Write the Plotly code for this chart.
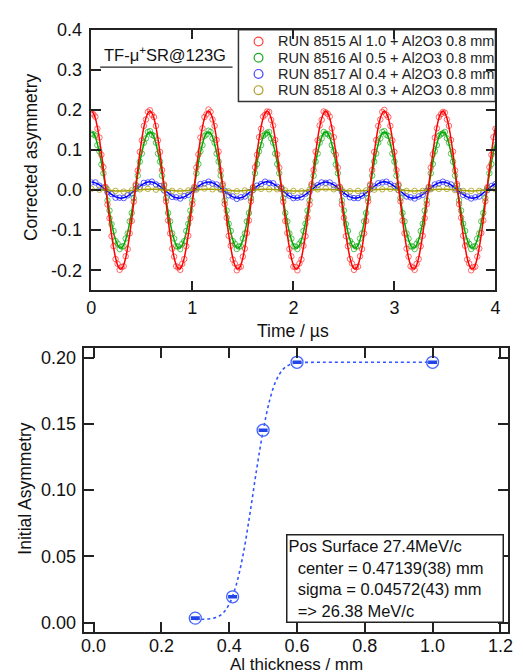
import numpy as np
import plotly.graph_objects as go

W, H = 523, 672
def fx(p): return p / W
def fy(p): return 1 - p / H

FONT = "Liberation Sans, Arial, sans-serif"

# ---------------- top panel data (Time / us, corrected asymmetry) ----------------
series_names = [
    "RUN 8515 Al 1.0 + Al2O3 0.8 mm",
    "RUN 8516 Al 0.5 + Al2O3 0.8 mm",
    "RUN 8517 Al 0.4 + Al2O3 0.8 mm",
    "RUN 8518 Al 0.3 + Al2O3 0.8 mm",
]

red_data = [
    0.193,0.189,0.183,0.153,0.131,0.088,0.057,0.008,-0.036,-0.070,-0.115,-0.140,-0.172,-0.184,-0.199,-0.192,-0.190,-0.165,-0.147,-0.108,-0.077,-0.029,0.014,0.049,0.095,0.124,0.160,0.176,0.195,
    0.199,0.188,0.182,0.160,0.124,0.095,0.050,0.014,-0.028,-0.076,-0.108,-0.146,-0.166,-0.190,-0.193,-0.199,-0.184,-0.172,-0.140,-0.114,-0.070,-0.035,0.008,0.056,0.089,0.131,0.154,0.182,0.189,
    0.201,0.195,0.176,0.160,0.125,0.096,0.049,0.015,-0.035,-0.069,-0.114,-0.139,-0.173,-0.183,-0.200,-0.193,-0.191,-0.166,-0.146,-0.107,-0.076,-0.028,0.007,0.057,0.088,0.132,0.153,0.183,0.188,
    0.196,0.195,0.175,0.161,0.125,0.089,0.056,0.007,-0.029,-0.077,-0.107,-0.147,-0.165,-0.191,-0.192,-0.200,-0.183,-0.173,-0.139,-0.115,-0.069,-0.036,0.015,0.050,0.096,0.124,0.161,0.175,0.196,
    0.194,0.190,0.183,0.154,0.132,0.088,0.056,0.008,-0.036,-0.069,-0.115,-0.140,-0.172,-0.183,-0.199,-0.192,-0.191,-0.165,-0.147,-0.108,-0.077,-0.028,0.014,0.050,0.095,0.125,0.160,0.176,0.195,
    0.200,0.188,0.182,0.160,0.124,0.095,0.050,0.014,-0.028,-0.076,-0.108,-0.146,-0.166,-0.190,-0.193,-0.199,-0.184,-0.172,-0.140,-0.114,-0.070,-0.035,0.008,0.056,0.089,0.131,0.154,0.182,0.189,
    0.195,0.193,0.176,0.160,0.125,0.096,0.049,0.015,-0.035,-0.069,-0.114,-0.139,-0.173,-0.183,-0.200,-0.193,-0.191,-0.166,-0.146,-0.107,-0.076,-0.028,0.007,0.057,0.088,0.132,0.153,
]
red_fit = [
    0.197,0.192,0.179,0.157,0.128,0.092,0.053,0.011,-0.032,-0.073,-0.111,-0.143,-0.169,-0.187,-0.196,-0.196,-0.187,-0.169,-0.143,-0.111,-0.073,-0.032,0.011,0.053,0.092,0.128,0.157,0.179,0.192,
    0.197,0.192,0.179,0.157,0.128,0.092,0.053,0.011,-0.032,-0.073,-0.111,-0.143,-0.169,-0.187,-0.196,-0.196,-0.187,-0.169,-0.143,-0.111,-0.073,-0.032,0.011,0.053,0.092,0.128,0.157,0.179,0.192,
    0.197,0.192,0.179,0.157,0.128,0.092,0.053,0.011,-0.032,-0.073,-0.111,-0.143,-0.169,-0.187,-0.196,-0.196,-0.187,-0.169,-0.143,-0.111,-0.073,-0.032,0.011,0.053,0.092,0.128,0.157,0.179,0.192,
    0.197,0.192,0.179,0.157,0.128,0.092,0.053,0.011,-0.032,-0.073,-0.111,-0.143,-0.169,-0.187,-0.196,-0.196,-0.187,-0.169,-0.143,-0.111,-0.073,-0.032,0.011,0.053,0.092,0.128,0.157,0.179,0.192,
    0.197,0.192,0.179,0.157,0.128,0.092,0.053,0.011,-0.032,-0.073,-0.111,-0.143,-0.169,-0.187,-0.196,-0.196,-0.187,-0.169,-0.143,-0.111,-0.073,-0.032,0.011,0.053,0.092,0.128,0.157,0.179,0.192,
    0.197,0.192,0.179,0.157,0.128,0.092,0.053,0.011,-0.032,-0.073,-0.111,-0.143,-0.169,-0.187,-0.196,-0.196,-0.187,-0.169,-0.143,-0.111,-0.073,-0.032,0.011,0.053,0.092,0.128,0.157,0.179,0.192,
    0.197,0.192,0.179,0.157,0.128,0.092,0.053,0.011,-0.032,-0.073,-0.111,-0.143,-0.169,-0.187,-0.196,-0.196,-0.187,-0.169,-0.143,-0.111,-0.073,-0.032,0.011,0.053,0.092,0.128,0.157,
]

green_data = [
    0.141,0.139,0.136,0.112,0.097,0.064,0.042,0.005,-0.026,-0.051,-0.085,-0.102,-0.127,-0.134,-0.147,-0.141,-0.140,-0.121,-0.108,-0.078,-0.057,-0.020,0.011,0.036,0.071,0.091,0.118,0.129,0.145,
    0.147,0.138,0.135,0.118,0.091,0.071,0.036,0.011,-0.020,-0.057,-0.078,-0.108,-0.121,-0.140,-0.141,-0.147,-0.134,-0.127,-0.102,-0.084,-0.051,-0.026,0.005,0.042,0.065,0.097,0.112,0.135,0.139,
    0.148,0.145,0.129,0.118,0.091,0.071,0.036,0.011,-0.026,-0.051,-0.084,-0.102,-0.127,-0.134,-0.147,-0.141,-0.140,-0.121,-0.108,-0.078,-0.057,-0.020,0.005,0.042,0.065,0.097,0.112,0.135,0.139,
    0.143,0.145,0.129,0.118,0.091,0.065,0.042,0.005,-0.020,-0.057,-0.078,-0.108,-0.121,-0.140,-0.141,-0.147,-0.134,-0.127,-0.102,-0.084,-0.051,-0.026,0.011,0.036,0.071,0.091,0.118,0.129,0.145,
    0.141,0.140,0.135,0.112,0.097,0.064,0.042,0.005,-0.026,-0.051,-0.085,-0.102,-0.127,-0.134,-0.147,-0.141,-0.140,-0.121,-0.108,-0.078,-0.057,-0.020,0.011,0.036,0.071,0.091,0.118,0.129,0.145,
    0.147,0.138,0.135,0.118,0.091,0.071,0.036,0.011,-0.020,-0.057,-0.078,-0.108,-0.121,-0.140,-0.141,-0.147,-0.134,-0.127,-0.102,-0.084,-0.051,-0.026,0.005,0.042,0.065,0.097,0.112,0.135,0.139,
    0.142,0.145,0.129,0.118,0.091,0.071,0.036,0.011,-0.026,-0.051,-0.084,-0.102,-0.127,-0.134,-0.147,-0.141,-0.140,-0.121,-0.108,-0.078,-0.057,-0.020,0.005,0.042,0.065,0.097,0.112,
]
green_fit = [
    0.145,0.142,0.132,0.115,0.094,0.068,0.039,0.008,-0.023,-0.054,-0.081,-0.105,-0.124,-0.137,-0.144,-0.144,-0.137,-0.124,-0.105,-0.081,-0.054,-0.023,0.008,0.039,0.068,0.094,0.115,0.132,0.142,
    0.145,0.142,0.132,0.115,0.094,0.068,0.039,0.008,-0.023,-0.054,-0.081,-0.105,-0.124,-0.137,-0.144,-0.144,-0.137,-0.124,-0.105,-0.081,-0.054,-0.023,0.008,0.039,0.068,0.094,0.115,0.132,0.142,
    0.145,0.142,0.132,0.115,0.094,0.068,0.039,0.008,-0.023,-0.054,-0.081,-0.105,-0.124,-0.137,-0.144,-0.144,-0.137,-0.124,-0.105,-0.081,-0.054,-0.023,0.008,0.039,0.068,0.094,0.115,0.132,0.142,
    0.145,0.142,0.132,0.115,0.094,0.068,0.039,0.008,-0.023,-0.054,-0.081,-0.105,-0.124,-0.137,-0.144,-0.144,-0.137,-0.124,-0.105,-0.081,-0.054,-0.023,0.008,0.039,0.068,0.094,0.115,0.132,0.142,
    0.145,0.142,0.132,0.115,0.094,0.068,0.039,0.008,-0.023,-0.054,-0.081,-0.105,-0.124,-0.137,-0.144,-0.144,-0.137,-0.124,-0.105,-0.081,-0.054,-0.023,0.008,0.039,0.068,0.094,0.115,0.132,0.142,
    0.145,0.142,0.132,0.115,0.094,0.068,0.039,0.008,-0.023,-0.054,-0.081,-0.105,-0.124,-0.137,-0.144,-0.144,-0.137,-0.124,-0.105,-0.081,-0.054,-0.023,0.008,0.039,0.068,0.094,0.115,0.132,0.142,
    0.145,0.142,0.132,0.115,0.094,0.068,0.039,0.008,-0.023,-0.054,-0.081,-0.105,-0.124,-0.137,-0.144,-0.144,-0.137,-0.124,-0.105,-0.081,-0.054,-0.023,0.008,0.039,0.068,0.094,0.115,
]

blue_data = [
    0.019,0.019,0.011,0.006,-0.005,-0.010,-0.019,-0.019,-0.020,-0.013,-0.008,0.003,0.008,0.018,0.019,0.021,0.014,0.010,-0.001,-0.006,-0.017,-0.018,-0.021,-0.015,-0.012,-0.001,0.004,0.015,0.017,
    0.021,0.016,0.014,0.003,-0.002,-0.013,-0.016,-0.022,-0.018,-0.016,-0.005,0.000,0.011,0.015,0.021,0.018,0.017,0.008,0.003,-0.009,-0.014,-0.020,-0.019,-0.018,-0.009,-0.004,0.007,0.012,0.019,
    0.018,0.019,0.012,0.006,-0.004,-0.010,-0.018,-0.020,-0.020,-0.014,-0.008,0.002,0.009,0.017,0.019,0.021,0.015,0.010,0.000,-0.006,-0.016,-0.018,-0.021,-0.016,-0.012,-0.002,0.004,0.014,0.017,
    0.021,0.017,0.014,0.004,-0.002,-0.012,-0.016,-0.021,-0.018,-0.016,-0.006,0.000,0.010,0.015,
]
blue_fit = [
    0.020,0.018,0.013,0.005,-0.003,-0.011,-0.017,-0.020,-0.019,-0.015,-0.007,0.001,0.009,0.016,0.020,0.020,0.016,0.009,0.001,-0.007,-0.015,-0.019,-0.020,-0.017,-0.011,-0.003,0.005,0.013,0.018,
    0.020,0.018,0.013,0.005,-0.003,-0.011,-0.017,-0.020,-0.019,-0.015,-0.007,0.001,0.009,0.016,0.020,0.020,0.016,0.009,0.001,-0.007,-0.015,-0.019,-0.020,-0.017,-0.011,-0.003,0.005,0.013,0.018,
    0.020,0.018,0.013,0.005,-0.003,-0.011,-0.017,-0.020,-0.019,-0.015,-0.007,0.001,0.009,0.016,0.020,0.020,0.016,0.009,0.001,-0.007,-0.015,-0.019,-0.020,-0.017,-0.011,-0.003,0.005,0.013,0.018,
    0.020,0.018,0.013,0.005,-0.003,-0.011,-0.017,-0.020,-0.019,-0.015,-0.007,0.001,0.009,0.016,
]

olive_data = [
    0.003,0.001,0.001,-0.002,-0.004,-0.001,0.002,0.003,0.001,0.001,-0.002,-0.003,-0.001,0.001,0.004,0.002,0.001,-0.003,-0.003,-0.001,0.000,0.003,0.002,0.002,-0.001,-0.002,-0.003,0.001,0.002,
    0.004,0.002,0.000,-0.003,-0.002,-0.001,0.001,0.002,0.003,0.000,-0.002,-0.002,-0.002,0.002,0.003,0.003,0.000,-0.002,-0.002,-0.002,0.001,0.002,
]
olive_fit = [
    0.002,0.001,0.000,-0.002,-0.002,-0.001,0.001,0.002,0.002,0.000,-0.001,-0.002,-0.001,0.001,0.002,0.002,0.001,-0.001,-0.002,-0.001,0.000,0.002,0.002,0.001,-0.001,-0.002,-0.002,0.000,0.001,
    0.002,0.001,0.000,-0.002,-0.002,-0.001,0.001,0.002,0.002,0.000,-0.001,-0.002,-0.001,0.001,0.002,0.002,0.001,-0.001,-0.002,-0.001,0.000,0.002,
]

# time bins (us)
step_red, step_blue, step_olive = 0.02, 0.04, 0.08

top_x_ticks = [0, 1, 2, 3, 4]
top_x_ticktext = ["0", "1", "2", "3", "4"]
top_y_ticks = [-0.2, -0.1, 0.0, 0.1, 0.2, 0.3, 0.4]
top_y_ticktext = ["-0.2", "-0.1", "0.0", "0.1", "0.2", "0.3", "0.4"]

# ---------------- bottom panel data ----------------
al_thickness = [0.30, 0.41, 0.50, 0.60, 1.00]
init_asym = [0.0035, 0.0196, 0.1452, 0.1964, 0.1964]
init_asym_err = [0.0006, 0.0006, 0.0006, 0.0006, 0.0006]

fit_x = [0.30, 0.32, 0.34, 0.36, 0.38, 0.40, 0.42, 0.44, 0.46, 0.48, 0.50,
         0.52, 0.54, 0.56, 0.58, 0.60, 0.65, 0.70, 0.80, 0.90, 1.00]
fit_y = [0.0025, 0.0026, 0.0029, 0.0039, 0.0069, 0.0140, 0.0280, 0.0500, 0.0803, 0.1141, 0.1446,
         0.1684, 0.1835, 0.1914, 0.1948, 0.1960, 0.1964, 0.1964, 0.1964, 0.1964, 0.1964]

bot_x_ticks = [0.0, 0.2, 0.4, 0.6, 0.8, 1.0, 1.2]
bot_x_ticktext = ["0.0", "0.2", "0.4", "0.6", "0.8", "1.0", "1.2"]
bot_y_ticks = [0.00, 0.05, 0.10, 0.15, 0.20]
bot_y_ticktext = ["0.00", "0.05", "0.10", "0.15", "0.20"]

# ---------------- figure ----------------
fig = go.Figure()

def tgrid(vals, step):
    return np.round(np.arange(len(vals)) * step, 3)

top_series = [
    (blue_data, blue_fit, step_blue, "#0000FF", "rgba(40,40,255,0.75)", series_names[2]),
    (olive_data, olive_fit, step_olive, "#A8A000", "rgba(170,160,20,0.8)", series_names[3]),
    (green_data, green_fit, step_red, "#00A800", "rgba(20,170,20,0.7)", series_names[1]),
    (red_data, red_fit, step_red, "#FF0000", "rgba(255,40,40,0.7)", series_names[0]),
]
for data, fit, step, lc, mc, name in top_series:
    fig.add_trace(go.Scatter(
        x=tgrid(data, step), y=data, mode="markers", name=name, showlegend=False,
        marker=dict(symbol="circle-open", size=5.5, color=mc, line=dict(width=1, color=mc)),
        xaxis="x", yaxis="y"))
    fig.add_trace(go.Scatter(
        x=tgrid(fit, step), y=fit, mode="lines", showlegend=False,
        line=dict(color=lc, width=1.5, shape="spline", smoothing=1.0),
        xaxis="x", yaxis="y"))

fig.add_trace(go.Scatter(
    x=fit_x, y=fit_y, mode="lines", showlegend=False,
    line=dict(color="#3355FF", width=1.6, dash="dot", shape="spline"),
    xaxis="x2", yaxis="y2"))
fig.add_trace(go.Scatter(
    x=al_thickness, y=init_asym, mode="markers", showlegend=False,
    marker=dict(symbol="circle-open", size=12, color="#4466FF", line=dict(width=1.3, color="#4466FF")),
    error_y=dict(type="data", array=init_asym_err, visible=True, thickness=2, width=4.5, color="#2244E8"),
    xaxis="x2", yaxis="y2"))

axis_common = dict(showline=True, linecolor="#222222", linewidth=1.5, mirror="ticks",
                   ticks="inside", ticklen=10, tickwidth=1.5, tickcolor="#222222",
                   showgrid=False, zeroline=False,
                   tickfont=dict(family=FONT, size=18, color="#111111"))

fig.update_layout(
    width=W, height=H, margin=dict(l=0, r=0, t=0, b=0),
    paper_bgcolor="white", plot_bgcolor="white", showlegend=False,
    xaxis=dict(domain=[fx(88), fx(500)], range=[0, 4], anchor="y",
               tickvals=top_x_ticks, ticktext=top_x_ticktext, ticklabelstandoff=0, **axis_common),
    yaxis=dict(domain=[fy(285), fy(20)], range=[-0.25, 0.4], anchor="x",
               tickvals=top_y_ticks, ticktext=top_y_ticktext, ticklabelstandoff=4, **axis_common),
    xaxis2=dict(domain=[fx(81), fx(513)], range=[-0.027, 1.223], anchor="y2",
                tickvals=bot_x_ticks, ticktext=bot_x_ticktext, ticklabelstandoff=-3, **axis_common),
    yaxis2=dict(domain=[fy(632), fy(344)], range=[-0.0067, 0.2069], anchor="x2",
                tickvals=bot_y_ticks, ticktext=bot_y_ticktext, ticklabelstandoff=3, **axis_common),
)

ann = []
shapes = []
title_font = dict(family=FONT, size=17.5, color="#111111")
ann.append(dict(text="Time / µs", x=fx(294), y=fy(326), xref="paper", yref="paper",
                showarrow=False, xanchor="center", yanchor="middle", font=title_font))
ann.append(dict(text="Corrected asymmetry", x=fx(26), y=fy(150), xref="paper", yref="paper",
                showarrow=False, xanchor="center", yanchor="middle", textangle=-90, font=title_font))
ann.append(dict(text="Al thickness / mm", x=fx(297), y=fy(665), xref="paper", yref="paper",
                showarrow=False, xanchor="center", yanchor="middle",
                font=dict(family=FONT, size=17, color="#111111")))
ann.append(dict(text="Initial Asymmetry", x=fx(20), y=fy(486), xref="paper", yref="paper",
                showarrow=False, xanchor="center", yanchor="middle", textangle=-90, font=title_font))
ann.append(dict(text="TF-μ<sup>+</sup>SR@123G", x=fx(99), y=fy(45), xref="paper", yref="paper",
                showarrow=False, xanchor="left", yanchor="middle",
                font=dict(family=FONT, size=16.5, color="#111111")))
shapes.append(dict(type="line", xref="paper", yref="paper", x0=fx(97), x1=fx(232), y0=fy(58), y1=fy(58),
                   line=dict(color="#222222", width=1.3)))

# manual legend
shapes.append(dict(type="rect", xref="paper", yref="paper", x0=fx(238), x1=fx(500), y0=fy(93), y1=fy(20),
                   line=dict(color="#333333", width=1.5), fillcolor="white", layer="below"))
legend_rows = [32, 48.5, 65, 81.5]
legend_colors = ["#FF4444", "#22AA22", "#4444FF", "#B0A030"]
for name, col, ry in zip(series_names, legend_colors, legend_rows):
    shapes.append(dict(type="circle", xref="paper", yref="paper",
                       x0=fx(254), x1=fx(263), y0=fy(ry + 4.5), y1=fy(ry - 4.5),
                       line=dict(color=col, width=1.2)))
    ann.append(dict(text=name, x=fx(276), y=fy(ry), xref="paper", yref="paper",
                    showarrow=False, xanchor="left", yanchor="middle",
                    font=dict(family=FONT, size=14.5, color="#222222")))

# fit result box
ann.append(dict(
    text="Pos Surface 27.4MeV/c<br>&nbsp;&nbsp;center = 0.47139(38) mm<br>&nbsp;&nbsp;sigma = 0.04572(43) mm<br>&nbsp;&nbsp;=&gt; 26.38 MeV/c",
    x=fx(286), y=fy(533), xref="paper", yref="paper", showarrow=False,
    xanchor="left", yanchor="top", align="left", width=213, height=84,
    bordercolor="#222222", borderwidth=1.5, borderpad=1, bgcolor="white",
    font=dict(family=FONT, size=16.5, color="#111111")))

fig.update_layout(annotations=ann, shapes=shapes)
fig.write_html("out.html")
